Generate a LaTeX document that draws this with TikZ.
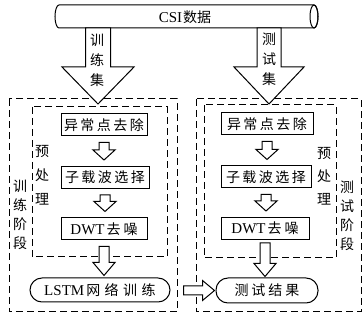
\documentclass[tikz,border=0pt]{standalone}
\usepackage{fontspec}
\setmainfont{Liberation Serif}
\newfontfamily\cjk{Noto Sans CJK SC}
\newcommand\lat[1]{{\rmfamily\fontsize{15}{16}\selectfont #1}}
\usetikzlibrary{calc}
% vertical block arrow: #1 start, #2 end, #3 shaft half, #4 head half, #5 head length, #6 start gap, #7 end gap
\newcommand\vblk[7]{%
  \draw[blk] let \p1=(#1), \p2=(#2) in
    (\x1-#3,\y1-#6) -- (\x1-#3,\y2+#7+#5) -- (\x1-#4,\y2+#7+#5) -- (\x1,\y2+#7)
    -- (\x1+#4,\y2+#7+#5) -- (\x1+#3,\y2+#7+#5) -- (\x1+#3,\y1-#6) -- cycle;}
% horizontal block arrow (to the right)
\newcommand\hblk[7]{%
  \draw[blk] let \p1=(#1), \p2=(#2) in
    (\x1+#6,\y2+#3) -- (\x2-#7-#5,\y2+#3) -- (\x2-#7-#5,\y2+#4) -- (\x2-#7,\y2)
    -- (\x2-#7-#5,\y2-#4) -- (\x2-#7-#5,\y2-#3) -- (\x1+#6,\y2-#3) -- cycle;}
\begin{document}
\begin{tikzpicture}[x=1pt,y=-1pt,
  every node/.style={font=\cjk\fontsize{14}{16}\selectfont, inner sep=0pt},
  box/.style={draw, line width=1pt, minimum height=22pt, fill=white},
  stadium/.style={draw, line width=1pt, rounded corners=12pt, minimum height=24pt, fill=white},
  dbox/.style={draw, line width=1pt, dash pattern=on 7pt off 4pt},
  blk/.style={draw, line width=1pt, fill=white, line join=miter},
  vtext/.style={align=center, font=\cjk\fontsize{14}{#1}\selectfont}]
\useasboundingbox (0,0) rectangle (362,320);

% dashed frames
\draw[dbox] (9,99) rectangle (177,312);
\draw[dbox] (196,99) rectangle (361,312);
\draw[dbox] (32,107) rectangle (167,257);
\draw[dbox] (204,105) rectangle (336,258);

% cylinder
\draw[line width=1pt, fill=white] (59,5) -- (314,5)
  arc[start angle=90, end angle=-90, x radius=4pt, y radius=11.5pt] -- (59,28)
  arc[start angle=270, end angle=90, x radius=4pt, y radius=11.5pt] -- cycle;
\draw[line width=1pt] (314,16.5) ellipse [x radius=4pt, y radius=11.5pt];
\node (csi) at (185,17) {\lat{CSI}\kern1pt 数据};

% big arrows
\coordinate (ltop) at (98,28);
\coordinate (ltip) at (98,104);
\coordinate (rtop) at (269,28);
\coordinate (rtip) at (269,104);
\vblk{ltop}{ltip}{12.5pt}{36pt}{37pt}{0pt}{0pt}
\vblk{rtop}{rtip}{12pt}{35pt}{37pt}{0pt}{0pt}
\node[vtext=20] (ltxt) at (97,60) {训\\练\\集};
\node[vtext=20] (rtxt) at (269,59) {测\\试\\集};

% left column
\node[box, minimum width=86pt] (a1) at (104,125) {异\kern2.5pt 常\kern2.5pt 点\kern2.5pt 去\kern2.5pt 除};
\node[box, minimum width=88pt] (a2) at (105,177.5) {子\kern2.5pt 载\kern2.5pt 波\kern2.5pt 选\kern2.5pt 择};
\node[box, minimum width=86pt] (a3) at (104,229) {\lat{DWT}\kern2pt 去\kern3pt 噪};
\node[stadium, minimum width=140pt] (l4) at (100,290) {\lat{LSTM}\kern2pt 网\kern4.5pt 络\kern4.5pt 训\kern4.5pt 练};

% right column
\node[box, minimum width=92pt] (b1) at (267,124) {异\kern2.5pt 常\kern2.5pt 点\kern2.5pt 去\kern2.5pt 除};
\node[box, minimum width=90pt] (b2) at (266,177) {子\kern2.5pt 载\kern2.5pt 波\kern2.5pt 选\kern2.5pt 择};
\node[box, minimum width=88pt] (b3) at (265,228.5) {\lat{DWT}\kern2pt 去\kern3pt 噪};
\node[stadium, minimum width=102pt, minimum height=25pt] (r4) at (267,290.5) {测\kern3pt 试\kern3pt 结\kern3pt 果};

% small arrows
\vblk{a1.south}{a2.north}{5pt}{11pt}{10pt}{6pt}{6pt}
\vblk{a2.south}{a3.north}{5pt}{11pt}{10pt}{6pt}{6pt}
\vblk{a3.south}{l4.north}{5pt}{11pt}{13pt}{6pt}{2pt}
\vblk{b1.south}{b2.north}{5pt}{11pt}{10pt}{6pt}{6pt}
\vblk{b2.south}{b3.north}{5pt}{11pt}{10pt}{6pt}{6pt}
\vblk{b3.south}{r4.north}{5pt}{11pt}{13pt}{3pt}{1pt}
\hblk{l4.east}{r4.west}{4.5pt}{10pt}{12pt}{13pt}{1pt}

% vertical labels
\node[vtext=24] (lpre) at (42,175) {预\\处\\理};
\node[vtext=19] (lstage) at (20,215) {训\\练\\阶\\段};
\node[vtext=23] (rpre) at (324,176) {预\\处\\理};
\node[vtext=19] (rstage) at (347,216) {测\\试\\阶\\段};
\end{tikzpicture}
\end{document}
